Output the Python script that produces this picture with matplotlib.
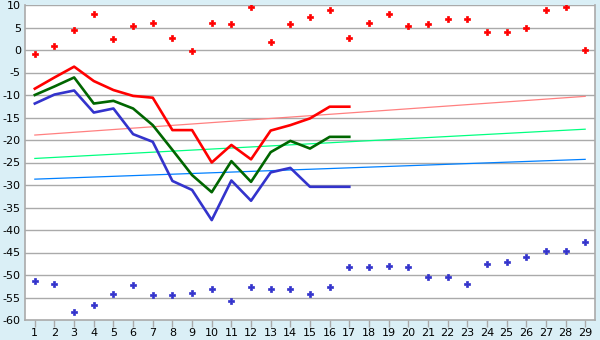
import matplotlib
matplotlib.use('Agg')
from matplotlib import pyplot as plt

plt.rcParams['axes.unicode_minus'] = False

# day numbers on the x axis
days = list(range(1, 30))
line_days = list(range(1, 18))

# daily extremes (scatter points)
high_pts = [-0.9, 1.0, 4.4, 7.9, 2.4, 5.3, 6.1, 2.6, -0.3, 6.1,
            5.7, 9.5, 1.7, 5.7, 7.3, 9.0, 2.6, 6.1, 7.9, 5.3,
            5.7, 6.8, 6.8, 3.9, 3.9, 5.0, 9.0, 9.5, -0.1]
low_pts = [-51.4, -52.1, -58.3, -56.7, -54.3, -52.3, -54.5, -54.5, -54.1, -53.0,
           -55.8, -52.7, -53.2, -53.0, -54.3, -52.7, -48.3, -48.3, -47.9, -48.3,
           -50.5, -50.5, -52.1, -47.6, -47.2, -46.1, -44.7, -44.7, -42.7]

# thick series, days 1-17
red_line = [-8.6, -6.1, -3.7, -6.9, -8.9, -10.2, -10.6, -17.8, -17.8, -25.0,
            -21.1, -24.3, -17.9, -16.7, -15.2, -12.6, -12.6]
green_line = [-10.0, -8.1, -6.1, -11.9, -11.3, -13.0, -16.7, -22.2, -27.8, -31.6,
              -24.7, -29.3, -22.7, -20.2, -21.9, -19.3, -19.3]
blue_line = [-11.9, -9.9, -9.0, -13.9, -13.0, -18.7, -20.4, -29.1, -31.1, -37.8,
             -29.0, -33.5, -27.2, -26.2, -30.4, -30.4, -30.4]

# trend lines, start and end values
trend_days = [1, 29]
red_trend = [-18.9, -10.3]
green_trend = [-24.1, -17.6]
blue_trend = [-28.7, -24.3]

bg = '#daeff6'
grid_col = '#aaaaaa'

fig = plt.figure(figsize=(6, 3.4), dpi=100, facecolor=bg)
ax = fig.add_axes([25 / 600, 20 / 340, 570 / 600, 315 / 340])
ax.set_facecolor('white')

for y in range(-55, 15, 5):
    ax.axhline(y, color=grid_col, lw=1.0, zorder=1)

ax.plot(trend_days, red_trend, color='#ff8080', lw=0.9, zorder=2)
ax.plot(trend_days, green_trend, color='#00ff80', lw=0.9, zorder=2)
ax.plot(trend_days, blue_trend, color='#0080ff', lw=0.9, zorder=2)

ax.plot(line_days, red_line, color='#ff0000', lw=1.9, zorder=3)
ax.plot(line_days, green_line, color='#006600', lw=1.9, zorder=3)
ax.plot(line_days, blue_line, color='#3333cc', lw=1.9, zorder=3)

ax.plot(days, high_pts, ls='none', marker='P', ms=4.5, color='#ff0000',
        mec='#ff0000', mew=0.5, zorder=4)
ax.plot(days, low_pts, ls='none', marker='P', ms=4.5, color='#3333cc',
        mec='#3333cc', mew=0.5, zorder=4)

ax.set_xlim(0.5, 29.5)
ax.set_ylim(-60, 10)
ax.set_xticks(days)
ax.set_yticks(range(-60, 15, 5))
ax.tick_params(axis='x', length=5, width=1, color=grid_col, labelsize=8,
               pad=1)
ax.tick_params(axis='y', length=0, labelsize=8, pad=3)

for side in ['left', 'bottom', 'right', 'top']:
    ax.spines[side].set_color(grid_col)
    ax.spines[side].set_linewidth(1.2)
ax.spines['top'].set_visible(False)

fig.savefig('out.png', dpi=100, facecolor=bg)
